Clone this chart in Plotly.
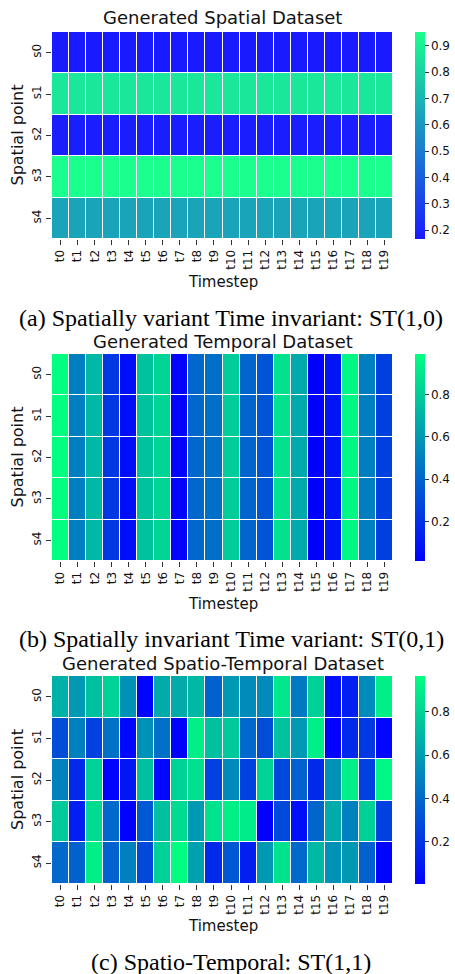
import plotly.graph_objects as go

W, H = 455, 974

timesteps = [f"t{i}" for i in range(20)]
spatial_points = [f"s{i}" for i in range(5)]

# Panel (a): spatially variant, time invariant
spatial_row_values = [0.166, 0.87, 0.18, 0.953, 0.64]

# Panel (b): spatially invariant, time variant
temporal_col_values = [0.99, 0.50, 0.72, 0.23, 0.07, 0.76, 0.83, 0.03, 0.41, 0.44,
                       0.80, 0.40, 0.34, 0.88, 0.66, 0.015, 0.09, 0.96, 0.50, 0.26]

# Panel (c): spatio-temporal
st_s0 = [0.67, 0.58, 0.73, 0.80, 0.55, 0.02, 0.65, 0.65, 0.70, 0.37,
         0.58, 0.53, 0.53, 0.88, 0.46, 0.79, 0.06, 0.12, 0.53, 0.91]
st_s1 = [0.30, 0.49, 0.25, 0.43, 0.035, 0.55, 0.43, 0.005, 0.91, 0.73,
         0.76, 0.40, 0.30, 0.74, 0.58, 0.91, 0.01, 0.16, 0.22, 0.03]
st_s2 = [0.49, 0.16, 0.80, 0.01, 0.09, 0.73, 0.03, 0.80, 0.85, 0.25,
         0.52, 0.25, 0.80, 0.28, 0.37, 0.16, 0.55, 0.91, 0.25, 0.93]
st_s3 = [0.76, 0.12, 0.83, 0.40, 0.008, 0.34, 0.73, 0.83, 0.58, 0.86,
         0.91, 0.89, 0.008, 0.28, 0.06, 0.39, 0.65, 0.49, 0.79, 0.25]
st_s4 = [0.40, 0.37, 0.91, 0.37, 0.49, 0.28, 0.79, 0.965, 0.61, 0.16,
         0.34, 0.12, 0.58, 0.86, 0.40, 0.70, 0.55, 0.58, 0.37, 0.02]

titles = ["Generated Spatial Dataset", "Generated Temporal Dataset",
          "Generated Spatio-Temporal Dataset"]
captions = ["(a) Spatially variant Time invariant: ST(1,0)",
            "(b) Spatially invariant Time variant: ST(0,1)",
            "(c) Spatio-Temporal: ST(1,1)"]

z1 = [[v] * len(timesteps) for v in spatial_row_values]
z2 = [list(temporal_col_values) for _ in spatial_points]
z3 = [st_s0, st_s1, st_s2, st_s3, st_s4]

winter = [[0, "rgb(0,0,255)"], [1, "rgb(0,255,128)"]]
winter_light = [[0, "rgb(26,26,255)"], [1, "rgb(26,255,141)"]]

# pixel layout for each panel: (top, bottom) of heatmap, title y, timestep y, caption y
panels = [
    dict(top=32, bot=239, title=18, xlab=282, cap=318, z=z1, cs=winter_light, dtick=0.1),
    dict(top=354, bot=561, title=341, xlab=604, cap=639, z=z2, cs=winter, dtick=0.2),
    dict(top=676, bot=884, title=663, xlab=926, cap=962, z=z3, cs=winter, dtick=0.2),
]
x0, x1 = 52, 393
cb_x = 415

fig = go.Figure()
font_sans = "DejaVu Sans"

def py(p):
    return 1 - p / H

for i, p in enumerate(panels):
    n = "" if i == 0 else str(i + 1)
    fig.add_trace(go.Heatmap(
        z=p["z"], x=timesteps, y=spatial_points,
        colorscale=p["cs"], xgap=1, ygap=1,
        xaxis="x" + n, yaxis="y" + n,
        colorbar=dict(
            x=cb_x / W, xanchor="left", xref="paper",
            y=py((p["top"] + p["bot"]) / 2), yanchor="middle",
            len=p["bot"] - p["top"], lenmode="pixels",
            thickness=10, thicknessmode="pixels",
            outlinewidth=0, ticks="outside", ticklen=4, tickwidth=1,
            tickcolor="#333", tick0=0, dtick=p["dtick"], tickformat=".1f",
            tickfont=dict(family=font_sans, size=12, color="#111"),
            xpad=0, ypad=0,
        ),
    ))
    xa = dict(domain=[x0 / W, x1 / W], anchor="y" + n, tickangle=-90,
              ticks="outside", ticklen=5, tickwidth=1, tickcolor="#333",
              tickfont=dict(family=font_sans, size=12, color="#111"),
              showgrid=False, zeroline=False, showline=False, type="category",
              automargin=False)
    ya = dict(domain=[py(p["bot"]), py(p["top"])], anchor="x" + n, tickangle=-90,
              ticks="outside", ticklen=5, tickwidth=1, tickcolor="#333",
              tickfont=dict(family=font_sans, size=12, color="#111"),
              autorange="reversed", showgrid=False, zeroline=False,
              showline=False, type="category", automargin=False)
    fig.update_layout(**{"xaxis" + n: xa, "yaxis" + n: ya})

    cx = (x0 + x1) / 2 / W
    fig.add_annotation(text=titles[i], x=cx, y=py(p["title"]), xref="paper", yref="paper",
                       showarrow=False, xanchor="center", yanchor="middle",
                       font=dict(family=font_sans, size=18, color="#111"))
    fig.add_annotation(text="Timestep", x=cx, y=py(p["xlab"]), xref="paper", yref="paper",
                       showarrow=False, xanchor="center", yanchor="middle",
                       font=dict(family=font_sans, size=15, color="#111"))
    fig.add_annotation(text="Spatial point", x=17 / W, y=py((p["top"] + p["bot"]) / 2),
                       xref="paper", yref="paper", textangle=-90,
                       showarrow=False, xanchor="center", yanchor="middle",
                       font=dict(family=font_sans, size=16, color="#111"))
    fig.add_annotation(text=captions[i], x=231 / W, y=py(p["cap"]), xref="paper", yref="paper",
                       showarrow=False, xanchor="center", yanchor="middle",
                       font=dict(family="Liberation Serif", size=24, color="#000"))

fig.update_layout(width=W, height=H, margin=dict(l=0, r=0, t=0, b=0),
                  paper_bgcolor="white", plot_bgcolor="white", showlegend=False)

fig.write_html("out.html", config={"displayModeBar": False},
               post_script="document.body.style.margin='0';document.body.style.overflow='hidden';")
